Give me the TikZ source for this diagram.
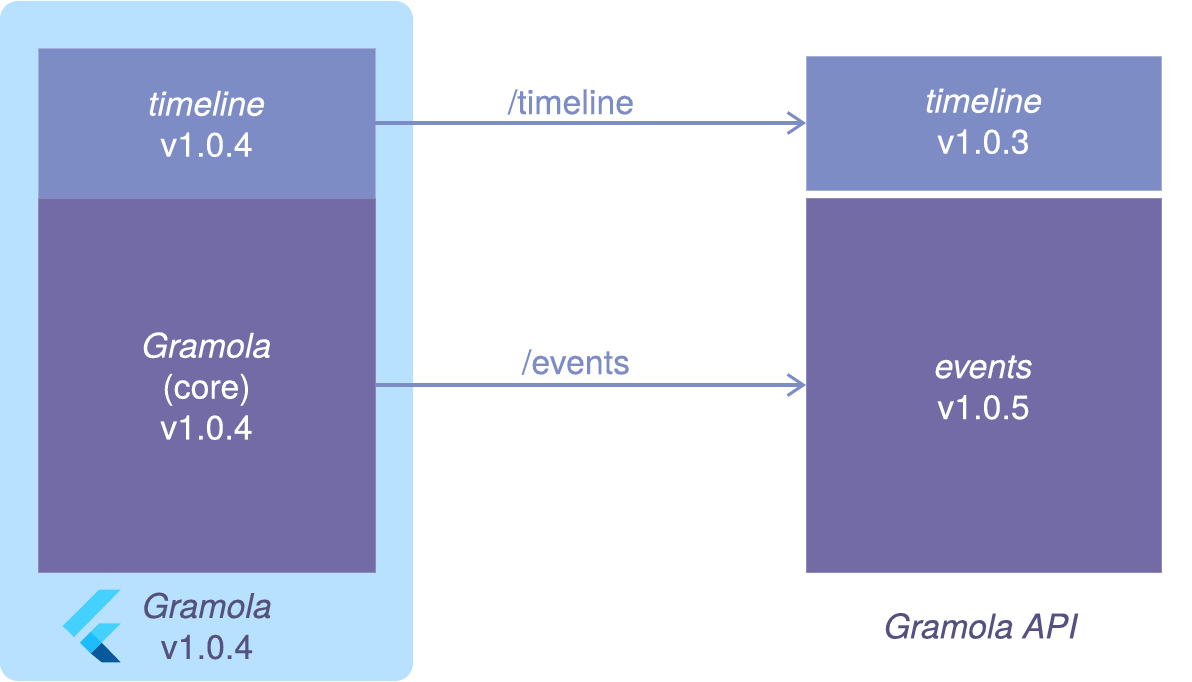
\documentclass[tikz,border=0pt]{standalone}
\usepackage{fontspec}
\setmainfont{TeX Gyre Heros}[FakeBold=0.25]
\usetikzlibrary{arrows.meta}
\definecolor{appbg}{HTML}{B8E0FF}
\definecolor{lightbox}{HTML}{7E8CC6}
\definecolor{darkbox}{HTML}{726BA6}
\definecolor{darktext}{HTML}{54507F}
\definecolor{flutterA}{HTML}{44D1FD}
\definecolor{flutterB}{HTML}{1FBCFD}
\definecolor{flutterC}{HTML}{08589C}
\tikzset{
  modbox/.style={inner sep=0pt,outer sep=0pt,align=center,text=white,font=\fontsize{19.3}{23.3}\selectfont},
  lightmod/.style={modbox,fill=lightbox,draw=lightbox!70!white,line width=0.3pt},
  darkmod/.style={modbox,fill=darkbox,draw=darkbox!80!white,line width=0.3pt},
  caption/.style={inner sep=0pt,align=center,text=darktext,font=\fontsize{19.3}{23.3}\selectfont},
  route/.style={inner sep=0pt,text=lightbox,font=\fontsize{19.3}{23.3}\selectfont},
  call/.style={lightbox,line width=1.9pt,-{Straight Barb[length=9pt,width=12pt,line width=1.7pt]}}
}
\begin{document}
\begin{tikzpicture}[x=0.02cm,y=-0.02cm]
\useasboundingbox (0,0) rectangle (1192,682);
\fill [appbg,rounded corners=0.36cm] (0,1) rectangle (413,681);
% left column
\node [lightmod,minimum width=6.74cm,minimum height=3cm] (tlapp) at (206.5,123) {\rule{0pt}{15.2pt}\textit{timeline}\\v1.0.4};
\node [darkmod,minimum width=6.74cm,minimum height=7.48cm] (coreapp) at (206.5,385) {\rule{0pt}{15.7pt}\textit{Gramola}\\(core)\\v1.0.4};
% right column
\node [lightmod,minimum width=7.1cm,minimum height=2.68cm] (tlapi) at (983.5,123) {\textit{timeline}\\v1.0.3\rule[-2.6pt]{0pt}{0pt}};
\node [darkmod,minimum width=7.1cm,minimum height=7.48cm] (eventsapi) at (983.5,385) {\rule{0pt}{15.8pt}\textit{events}\\v1.0.5};
% calls
\draw [call] (tlapp) -- (tlapi);
\draw [call] (coreapp) -- (eventsapi);
\node [route] (tlroute) at (571,102) {/timeline};
\node [route] (eventsroute) at (576,362) {/events};
% logo
\fill [flutterA] (120.7,589.7) -- (99.3,589.7) -- (62.7,626) -- (74,637) -- cycle;
\fill [flutterA] (120.7,623.3) -- (99.3,623.3) -- (80,642.7) -- (90.7,653.3) -- cycle;
\fill [flutterC] (90.7,653.3) -- (101.7,642.7) -- (120.7,662.3) -- (101.7,662.3) -- cycle;
\fill [flutterB] (80,642.7) -- (90.7,632) -- (101.7,642.7) -- (90.7,653.3) -- cycle;
% captions
\node [caption] (appname) at (207,626) {\textit{Gramola}\\v1.0.4};
\node [caption] (apiname) at (981,626) {\textit{Gramola API}};
\end{tikzpicture}
\end{document}
